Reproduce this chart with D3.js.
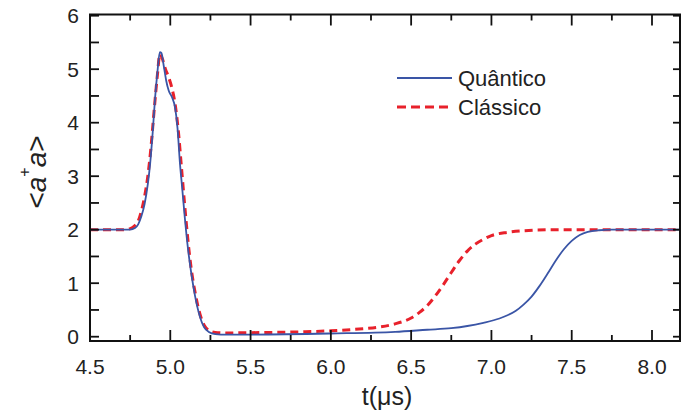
<!DOCTYPE html>
<html>
<head>
<meta charset="utf-8">
<script src="https://cdn.jsdelivr.net/npm/d3@7"></script>
<style>
  html, body { margin: 0; padding: 0; background: #fff; }
  svg { display: block; font-family: "Liberation Sans", Arial, sans-serif; }
</style>
</head>
<body>
<svg id="chart" width="681" height="418"></svg>
<script>
// ---- data ----
const quantumT = [4.5, 4.7, 4.75, 4.78, 4.80, 4.82, 4.84, 4.86, 4.875, 4.89, 4.905, 4.92, 4.935, 4.945, 4.96, 4.975, 4.99, 5.01, 5.03, 5.045, 5.06, 5.075, 5.09, 5.11, 5.13, 5.155, 5.185, 5.21, 5.24, 5.28, 5.35, 5.5, 6.0, 6.4, 6.6, 6.75, 6.85, 6.95, 7.05, 7.1, 7.15, 7.2, 7.25, 7.30, 7.35, 7.40, 7.45, 7.50, 7.55, 7.60, 7.67, 7.75, 8.2];
const quantumV = [2.0, 2.0, 2.0, 2.03, 2.10, 2.25, 2.48, 2.85, 3.25, 3.80, 4.45, 4.95, 5.32, 5.30, 5.05, 4.78, 4.60, 4.48, 4.28, 3.90, 3.25, 2.75, 2.24, 1.65, 1.20, 0.75, 0.37, 0.18, 0.09, 0.05, 0.04, 0.04, 0.06, 0.09, 0.13, 0.16, 0.20, 0.26, 0.34, 0.40, 0.48, 0.60, 0.75, 0.95, 1.18, 1.42, 1.63, 1.79, 1.90, 1.96, 1.99, 2.0, 2.0];

const classicT = [4.5, 4.7, 4.75, 4.78, 4.80, 4.82, 4.84, 4.86, 4.88, 4.90, 4.92, 4.935, 4.95, 4.97, 4.99, 5.01, 5.03, 5.05, 5.07, 5.09, 5.11, 5.13, 5.155, 5.185, 5.21, 5.24, 5.28, 5.35, 5.5, 5.8, 6.0, 6.2, 6.3, 6.4, 6.5, 6.55, 6.6, 6.65, 6.70, 6.75, 6.80, 6.85, 6.90, 6.95, 7.0, 7.1, 7.2, 7.4, 8.2];
const classicV = [2.0, 2.0, 2.02, 2.08, 2.16, 2.35, 2.62, 3.0, 3.55, 4.25, 4.9, 5.28, 5.2, 5.0, 4.85, 4.65, 4.35, 3.85, 3.15, 2.45, 1.8, 1.28, 0.82, 0.42, 0.22, 0.12, 0.08, 0.07, 0.075, 0.09, 0.11, 0.15, 0.18, 0.24, 0.35, 0.45, 0.58, 0.76, 0.97, 1.20, 1.42, 1.60, 1.73, 1.82, 1.89, 1.95, 1.98, 2.0, 2.0];

const xTicks = [4.5, 5.0, 5.5, 6.0, 6.5, 7.0, 7.5, 8.0];
const xMinorTicks = [4.75, 5.25, 5.75, 6.25, 6.75, 7.25, 7.75];
const yTicks = [0, 1, 2, 3, 4, 5, 6];
const yMinorTicks = [0.5, 1.5, 2.5, 3.5, 4.5, 5.5];
const seriesNames = ["Quântico", "Clássico"];
const seriesColors = ["#3a55a6", "#e8212b"];

// ---- layout ----
const svg = d3.select("#chart");
const L = 90, R = 680, T = 14.5, B = 341;
const x = d3.scaleLinear().domain([4.5, 8.0]).range([90, 652]);
const y = d3.scaleLinear().domain([0, 6]).range([336.7, 15.7]);

const defs = svg.append("defs");
defs.append("clipPath").attr("id", "clip")
  .append("rect").attr("x", L).attr("y", T).attr("width", R - L).attr("height", B - T);

const line = d3.line().x(d => x(d[0])).y(d => y(d[1])).curve(d3.curveMonotoneX);
const qData = quantumT.map((t, i) => [t, quantumV[i]]);
const cData = classicT.map((t, i) => [t, classicV[i]]);

const g = svg.append("g").attr("clip-path", "url(#clip)");
g.append("path").datum(cData).attr("d", line)
  .attr("fill", "none").attr("stroke", seriesColors[1]).attr("stroke-width", 3)
  .attr("stroke-dasharray", "8,5");
g.append("path").datum(qData).attr("d", line)
  .attr("fill", "none").attr("stroke", seriesColors[0]).attr("stroke-width", 1.8);

// ---- ticks ----
const tickColor = "#111";
const ticks = svg.append("g").attr("stroke", tickColor).attr("stroke-width", 1.8);
xTicks.forEach(v => {
  ticks.append("line").attr("x1", x(v)).attr("x2", x(v)).attr("y1", B).attr("y2", B - 11);
  ticks.append("line").attr("x1", x(v)).attr("x2", x(v)).attr("y1", T).attr("y2", T + 11);
});
xMinorTicks.forEach(v => {
  ticks.append("line").attr("x1", x(v)).attr("x2", x(v)).attr("y1", B).attr("y2", B - 6);
  ticks.append("line").attr("x1", x(v)).attr("x2", x(v)).attr("y1", T).attr("y2", T + 6);
});
yTicks.concat(yMinorTicks).forEach(v => {
  ticks.append("line").attr("x1", L).attr("x2", L + 9).attr("y1", y(v)).attr("y2", y(v));
  ticks.append("line").attr("x1", R).attr("x2", R - 7).attr("y1", y(v)).attr("y2", y(v));
});

// frame
svg.append("rect").attr("x", L).attr("y", T).attr("width", R - L).attr("height", B - T)
  .attr("fill", "none").attr("stroke", tickColor).attr("stroke-width", 2);

// tick labels
svg.append("g").selectAll("text").data(xTicks).join("text")
  .attr("x", d => x(d)).attr("y", 374).attr("text-anchor", "middle")
  .attr("font-size", 21).attr("fill", "#222").text(d => d.toFixed(1));
svg.append("g").selectAll("text").data(yTicks).join("text")
  .attr("x", 79).attr("y", d => y(d) + 7.5).attr("text-anchor", "end")
  .attr("font-size", 21).attr("fill", "#222").text(d => d);

// axis titles
svg.append("text").attr("x", 387).attr("y", 405).attr("text-anchor", "middle")
  .attr("font-size", 25).attr("fill", "#222").text("t(μs)");

const yl = svg.append("text").attr("transform", "translate(46,172) rotate(-90)")
  .attr("text-anchor", "middle").attr("font-size", 28).attr("fill", "#222");
yl.append("tspan").text("<");
yl.append("tspan").attr("font-style", "italic").text("a");
yl.append("tspan").attr("font-size", 16).attr("dy", -16).text("+");
yl.append("tspan").attr("font-style", "italic").attr("dy", 16).text("a");
yl.append("tspan").text(">");

// legend
const leg = svg.append("g");
[0, 1].forEach(i => {
  const ly = 78 + i * 29;
  leg.append("line").attr("x1", 397).attr("x2", 452).attr("y1", ly).attr("y2", ly)
    .attr("stroke", seriesColors[i]).attr("stroke-width", i === 0 ? 2 : 3)
    .attr("stroke-dasharray", i === 0 ? null : "9,5");
  leg.append("text").attr("x", 458).attr("y", ly + 8).attr("font-size", 22)
    .attr("fill", "#222").text(seriesNames[i]);
});
</script>
</body>
</html>
